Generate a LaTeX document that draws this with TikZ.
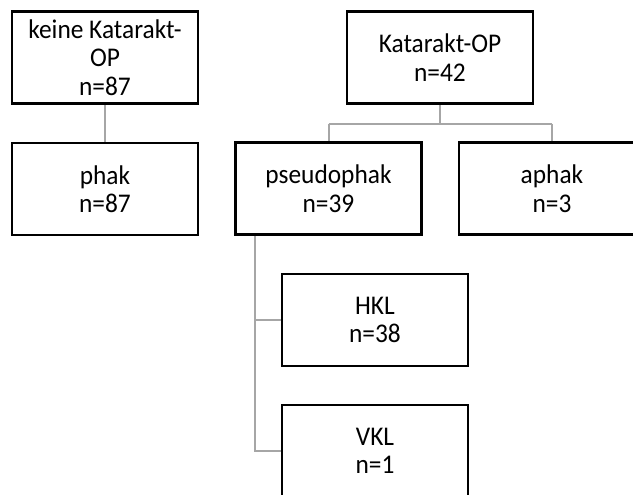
\documentclass[tikz,border=0pt]{standalone}
\usepackage{fontspec}
\setmainfont{Carlito}[FakeStretch=0.94]
\definecolor{conngray}{HTML}{A6A6A6}
\begin{document}
\begin{tikzpicture}[x=1pt,y=-1pt,
  box/.style={draw=black, line width=2.8pt, fill=white, minimum width=186pt, minimum height=92pt,
    inner sep=0pt, align=center, font=\fontsize{27}{28.5}\selectfont},
  conn/.style={draw=conngray, line width=2pt}]
\useasboundingbox (0,0) rectangle (633,495);
\clip (0,0) rectangle (633,495);
\fill[white] (0,0) rectangle (633,495);
% connectors
\coordinate (j1) at (440,124);
\coordinate (pv) at (255,235);
\draw[conn] (105,104) -- (105,143);
\draw[conn] (440,104) -- (j1);
\draw[conn] (328.5,124) -- (552,124);
\draw[conn] (328.5,124) -- (328.5,142);
\draw[conn] (552,124) -- (552,142);
\draw[conn] (pv) |- (375,320);
\draw[conn] (pv) |- (375,451);
% boxes
\node[box] (b1) at (105,57.5) {keine Katarakt-\\OP\\n=87};
\node[box] (b2) at (105,189) {phak\\n=87};
\node[box] (b3) at (440,57.5) {Katarakt-OP\\n=42};
\node[box] (b4) at (328.5,188.5) {pseudophak\\n=39};
\node[box] (b5) at (552,188.5) {aphak\\n=3};
\node[box] (b6) at (375,320) {HKL\\n=38};
\node[box] (b7) at (375,451) {VKL\\n=1};
\end{tikzpicture}
\end{document}
